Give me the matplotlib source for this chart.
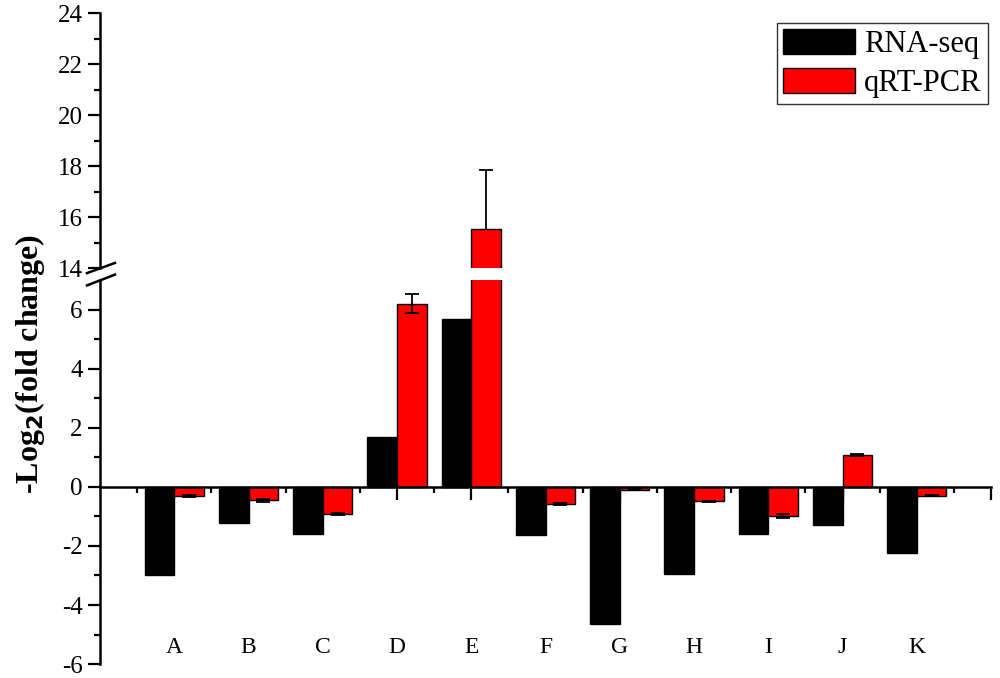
import matplotlib
matplotlib.use("Agg")
import matplotlib.pyplot as plt
import numpy as np
from matplotlib.ticker import MultipleLocator, FixedLocator

categories = ["A", "B", "C", "D", "E", "F", "G", "H", "I", "J", "K"]
rna_seq = [-3.0, -1.24, -1.61, 1.69, 5.67, -1.63, -4.65, -2.95, -1.59, -1.30, -2.24]
qrt_pcr = [-0.31, -0.46, -0.92, 6.20, 15.53, -0.58, -0.10, -0.49, -1.00, 1.07, -0.30]
qrt_err = [0.02, 0.05, 0.02, 0.33, 2.30, 0.02, 0.02, 0.02, 0.07, 0.03, 0.02]

plt.rcParams['font.family'] = ['Liberation Serif', 'DejaVu Serif']
plt.rcParams['axes.unicode_minus'] = False

fig = plt.figure(figsize=(10, 6.78), dpi=100)
ax_top = fig.add_axes([0.1, 0.6047, 0.891, 0.376])
ax_bot = fig.add_axes([0.1, 0.0205, 0.891, 0.5665])

x = np.arange(len(categories))
w = 0.4
for ax, ez in ((ax_top, 1), (ax_bot, 3)):
    ax.bar(x - w / 2, rna_seq, w, color='black', edgecolor='black', linewidth=1, label='RNA-seq', zorder=2)
    ax.bar(x + w / 2, qrt_pcr, w, color='#ff0000', edgecolor='black', linewidth=1, label='qRT-PCR', zorder=2)
    ax.errorbar(x + w / 2, qrt_pcr, yerr=qrt_err, fmt='none', ecolor='black', elinewidth=1.3,
                capsize=5, capthick=1.3, zorder=ez)
    ax.set_xlim(-1, 11)
    for s in ('top', 'right'):
        ax.spines[s].set_visible(False)
    ax.spines['left'].set_linewidth(1.8)
    ax.tick_params(axis='y', which='major', length=9, width=1.6, labelsize=18, direction='out')
    ax.tick_params(axis='y', which='minor', length=4.5, width=1.6, direction='out')

# Upper axis
ax_top.set_ylim(14, 24)
ax_top.yaxis.set_major_locator(MultipleLocator(2))
ax_top.yaxis.set_minor_locator(MultipleLocator(1))
ax_top.spines['bottom'].set_visible(False)
ax_top.set_xticks([])

# Lower axis
ax_bot.set_ylim(-6, 7)
ax_bot.set_yticks([-6, -4, -2, 0, 2, 4, 6])
ax_bot.yaxis.set_minor_locator(FixedLocator(np.arange(-5, 7, 2)))
ax_bot.spines['bottom'].set_position(('data', 0))
ax_bot.spines['bottom'].set_linewidth(1.8)
ax_bot.set_xticks(np.arange(0, 12))
ax_bot.set_xticklabels([])
ax_bot.xaxis.set_minor_locator(FixedLocator(np.arange(-0.5, 11, 1)))
ax_bot.tick_params(axis='x', which='major', length=9, width=1.6, direction='out')
ax_bot.tick_params(axis='x', which='minor', length=4.5, width=1.6, direction='out')
for xi, c in zip(x, categories):
    ax_bot.text(xi, -5.45, c, ha='center', va='center', fontsize=17)

# Break marks
kw = dict(color='black', lw=1.8, clip_on=False)
ax_top.plot([-0.0146, 0.0168], [-0.02, 0.02], transform=ax_top.transAxes, **kw)
ax_bot.plot([-0.0146, 0.0168], [0.986, 1.014], transform=ax_bot.transAxes, **kw)

fig.text(0.03, 0.463, '-Log$_\\mathbf{2}$(fold change)', rotation=90, ha='center', va='center',
         fontsize=23, fontweight='bold')

leg = ax_top.legend(loc='upper right', bbox_to_anchor=(0.9998, 0.975), fontsize=22, frameon=True,
                    fancybox=False, edgecolor='black', handlelength=2.36, handleheight=0.9,
                    borderpad=0.2, labelspacing=0.3, handletextpad=0.3, borderaxespad=0.1)
leg.get_frame().set_linewidth(1.0)

fig.savefig('out.png', dpi=100)
